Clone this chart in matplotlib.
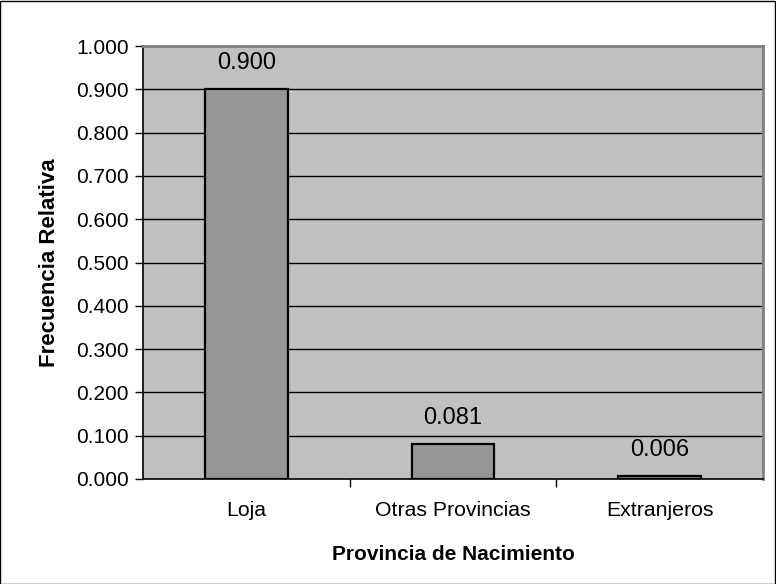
import matplotlib.pyplot as plt
from matplotlib.patches import Rectangle

plt.rcParams['font.family'] = ['Liberation Sans', 'DejaVu Sans']

categorias = ["Loja", "Otras Provincias", "Extranjeros"]
frecuencias = [0.900, 0.081, 0.006]
ticks_y = [0.0, 0.1, 0.2, 0.3, 0.4, 0.5, 0.6, 0.7, 0.8, 0.9, 1.0]

fig = plt.figure(figsize=(7.76, 5.84), dpi=100)
ax = fig.add_axes([143 / 776, 1 - 479 / 584, 620 / 776, 433 / 584])
ax.set_facecolor('#C0C0C0')

x = range(len(categorias))
for t in ticks_y[1:-1]:
    ax.axhline(t, color='black', lw=1, zorder=1)
ax.bar(x, frecuencias, width=0.4, color='#969696', edgecolor='black',
       linewidth=1.6, zorder=2)

for xi, v in zip(x, frecuencias):
    ax.annotate('{:.3f}'.format(v), (xi, v), xytext=(0, 11), textcoords='offset points',
                ha='center', va='bottom', fontsize=17)

ax.set_xlim(-0.5, len(categorias) - 0.5)
ax.set_ylim(0, 1.0)
ax.set_yticks(ticks_y)
ax.set_yticklabels(['{:.3f}'.format(t) for t in ticks_y], fontsize=15)
ax.set_xticks([0.5, 1.5], minor=False)
ax.set_xticklabels([])
ax.set_xticks(list(x), minor=True)
ax.set_xticklabels(categorias, minor=True, fontsize=15.3)
ax.tick_params(axis='x', which='minor', length=0, pad=16)
ax.tick_params(axis='x', which='major', length=6, width=1, direction='out')
ax.tick_params(axis='y', length=6, width=1, direction='out', pad=4)

for s in ['left', 'bottom']:
    ax.spines[s].set_color('black')
    ax.spines[s].set_linewidth(1.2)
for s in ['top', 'right']:
    ax.spines[s].set_color('#808080')
    ax.spines[s].set_linewidth(2)

ax.set_xlabel('Provincia de Nacimiento', fontsize=15, fontweight='bold', labelpad=18)
ax.set_ylabel('Frecuencia Relativa', fontsize=16, fontweight='bold', labelpad=12)

fig.add_artist(Rectangle((0.0005, 0.0005), 0.998, 0.998, transform=fig.transFigure,
                         fill=False, edgecolor='black', lw=1))

fig.savefig('out.png', dpi=100)
